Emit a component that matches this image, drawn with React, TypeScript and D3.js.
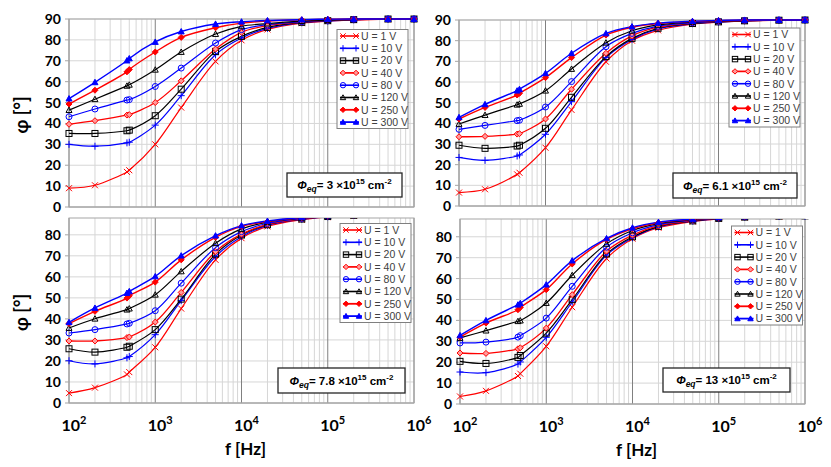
import React from "react";
import * as d3 from "d3";

// ---------- data ----------
const FREQS = [100, 200, 470, 500, 1000, 2000, 5000, 10000, 20000, 50000, 100000, 200000, 500000, 1000000];
const SERIES_LABELS = ["U = 1 V", "U = 10 V", "U = 20 V", "U = 40 V", "U = 80 V", "U = 120 V", "U = 250 V", "U = 300 V"];
const FLUENCES = ["3", "6.1", "7.8", "13"];
const X_EXPONENTS = [2, 3, 4, 5, 6];
const Y_TICKS = [0, 10, 20, 30, 40, 50, 60, 70, 80, 90];

// Φeq = 3e15
const PANEL_A: number[][] = [
  [9, 10.4, 16.8, 17.6, 30, 47.6, 69.7, 79.8, 85, 88, 89, 89.5, 89.9, 90],
  [30, 29.1, 30.7, 31, 39.2, 53.3, 72.9, 80.9, 85.5, 88.2, 89, 89.6, 90, 90],
  [35.2, 35.2, 36.5, 36.8, 43.7, 56.4, 74.5, 81.7, 86, 88.4, 89.2, 89.7, 90, 90],
  [39.6, 41.3, 44, 44.2, 50, 60.4, 75.6, 83.6, 86.8, 88.5, 89.3, 89.7, 90, 90],
  [43.2, 46.9, 51.2, 51.4, 57.7, 66.5, 78.5, 84.9, 87.3, 88.7, 89.4, 89.8, 90, 90],
  [46.4, 51.6, 58, 58.5, 65.7, 74.2, 82.8, 86.5, 87.8, 89, 89.5, 89.8, 90, 90],
  [49.3, 55.9, 64.7, 65.8, 74.2, 81.2, 85.8, 88, 89, 89.6, 89.9, 90, 90, 90],
  [51.9, 59.7, 70.1, 71.1, 79, 84, 87.6, 88.7, 89.3, 89.7, 89.9, 90, 90, 90],
];
// Φeq = 6.1e15
const PANEL_B: number[][] = [
  [6.5, 8.1, 15.3, 16.1, 28.2, 46.5, 69.8, 80, 85, 88, 89, 89.5, 89.9, 90],
  [23.5, 22.1, 24.2, 24.7, 34.7, 50.5, 71.8, 80.6, 85.7, 88.2, 89, 89.6, 89.9, 90],
  [29.4, 27.9, 29, 29.4, 37.6, 52.6, 72.3, 81.1, 86, 88.3, 89.1, 89.6, 89.9, 90],
  [33.5, 33.7, 34.8, 35, 42.1, 56.5, 73.9, 82.3, 86.5, 88.5, 89.3, 89.7, 90, 90],
  [37.1, 39, 41.3, 41.5, 47.9, 60.2, 77.1, 83.5, 87, 88.7, 89.4, 89.8, 90, 90],
  [39.7, 44, 49, 49.4, 55.8, 66.3, 79, 84.8, 87.6, 89, 89.5, 89.8, 90, 90],
  [42.1, 47.7, 53.7, 54.5, 62.1, 71.8, 82.7, 86.5, 88.3, 89.3, 89.7, 89.9, 90, 90],
  [42.9, 49.2, 55.8, 56.5, 64.2, 73.9, 83.5, 86.8, 88.5, 89.4, 89.8, 90, 90, 90],
];
// Φeq = 7.8e15
const PANEL_C: number[][] = [
  [4.7, 7.3, 13.6, 14.7, 26.5, 44.9, 68.1, 78.4, 84, 87.2, 88.5, 89.2, 89.8, 90],
  [20.1, 18.6, 21.5, 22.1, 32.5, 48.7, 69.7, 79.1, 84.5, 87.4, 88.6, 89.3, 89.9, 90],
  [25.8, 24.2, 26.5, 27, 34.9, 49.4, 70.8, 79.9, 84.8, 87.5, 88.7, 89.3, 89.9, 90],
  [29.5, 29.5, 31.1, 31.4, 38.5, 52.6, 72, 80.3, 85, 87.6, 88.8, 89.4, 89.9, 90],
  [33.3, 34.9, 37.6, 37.9, 43.9, 57, 73.9, 81.5, 85.5, 87.8, 88.9, 89.5, 90, 90],
  [35.7, 40.1, 44.4, 44.9, 51.5, 62.6, 76, 82.8, 86, 88, 89, 89.5, 90, 90],
  [37.8, 43.6, 49.9, 51, 57.5, 68.1, 78.8, 84, 86.3, 88.2, 89.1, 89.6, 90, 90],
  [38.4, 45.2, 52.3, 53.1, 60.2, 70.1, 79.6, 84.4, 86.6, 88.3, 89.2, 89.7, 90, 90],
];
// Φeq = 13e15
const PANEL_D: number[][] = [
  [3.6, 6.3, 13.4, 14.5, 27.6, 46.3, 69.6, 79.1, 84.3, 87.3, 88.6, 89.3, 89.8, 90],
  [15.3, 15, 19.1, 20.1, 31.9, 48.8, 71.2, 79.5, 84.7, 87.5, 88.7, 89.4, 89.9, 90],
  [20.4, 19.4, 22.3, 23.2, 33.9, 49.9, 71.8, 80, 85, 87.6, 88.8, 89.4, 89.9, 90],
  [24.4, 24.2, 26.4, 26.9, 36.3, 52.3, 73.1, 80.8, 85.3, 87.8, 88.9, 89.5, 90, 90],
  [29.2, 29.6, 32, 32.7, 41.1, 56.3, 75, 81.9, 85.8, 88, 89, 89.6, 90, 90],
  [31.6, 35.1, 39.6, 39.9, 48.3, 61.6, 76.6, 83, 86.3, 88.2, 89.1, 89.6, 90, 90],
  [32, 38.7, 45.1, 46.2, 54.7, 67, 78.7, 83.8, 86.7, 88.4, 89.2, 89.7, 90, 90],
  [32.8, 40, 47.5, 48.2, 57.1, 68.6, 79.2, 84.3, 87, 88.5, 89.3, 89.7, 90, 90],
];

// ---------- styles ----------
type Mk = "x" | "plus" | "square" | "diamondOpen" | "circle" | "triangle" | "diamond" | "triangleFilled";
const STYLES: { color: string; marker: Mk; width: number }[] = [
  { color: "#ff0000", marker: "x", width: 1.2 },
  { color: "#0000ff", marker: "plus", width: 1.2 },
  { color: "#000000", marker: "square", width: 1.2 },
  { color: "#ff0000", marker: "diamondOpen", width: 1.3 },
  { color: "#0000ff", marker: "circle", width: 1.2 },
  { color: "#000000", marker: "triangle", width: 1.2 },
  { color: "#ff0000", marker: "diamond", width: 1.4 },
  { color: "#0000ff", marker: "triangleFilled", width: 1.4 },
];

function Marker({ x, y, color, kind, s = 1 }: { x: number; y: number; color: string; kind: Mk; s?: number }) {
  const r = 3 * s;
  switch (kind) {
    case "x":
      return (
        <path d={`M${x - r},${y - r}L${x + r},${y + r}M${x - r},${y + r}L${x + r},${y - r}`} stroke={color} strokeWidth={1} fill="none" />
      );
    case "plus":
      return (
        <path d={`M${x - r - 0.5},${y}L${x + r + 0.5},${y}M${x},${y - r - 0.5}L${x},${y + r + 0.5}`} stroke={color} strokeWidth={1} fill="none" />
      );
    case "square":
      return <rect x={x - r} y={y - r} width={2 * r} height={2 * r} stroke={color} strokeWidth={1} fill="none" />;
    case "diamondOpen":
      return (
        <path d={`M${x},${y - r}L${x + r},${y}L${x},${y + r}L${x - r},${y}Z`} stroke={color} strokeWidth={1} fill="#ff9a9a" />
      );
    case "circle":
      return <circle cx={x} cy={y} r={r} stroke={color} strokeWidth={1} fill="none" />;
    case "triangle":
      return (
        <path d={`M${x},${y - r}L${x + r},${y + r * 0.8}L${x - r},${y + r * 0.8}Z`} stroke={color} strokeWidth={1} fill="none" />
      );
    case "diamond":
      return <path d={`M${x},${y - r}L${x + r},${y}L${x},${y + r}L${x - r},${y}Z`} stroke={color} strokeWidth={1} fill={color} />;
    case "triangleFilled":
      return (
        <path d={`M${x},${y - r}L${x + r},${y + r * 0.8}L${x - r},${y + r * 0.8}Z`} stroke={color} strokeWidth={1} fill={color} />
      );
  }
  return null;
}

type PanelProps = {
  id: string;
  data: number[][];
  x0: number;
  x1: number;
  y0: number;
  y1: number;
  yMax: number;
  clip: boolean;
  showX: boolean;
  showYTitle: boolean;
  legend: { x: number; y: number };
  note: { x: number; y: number; w: number; h: number };
  fluence: string;
};

const TICK_FONT = "Lato, 'Open Sans', sans-serif";
const TEXT_FONT = "'Liberation Sans', Arial, sans-serif";

function Panel(p: PanelProps) {
  const xs = d3.scaleLog().domain([100, 1e6]).range([p.x0, p.x1]);
  const ys = d3.scaleLinear().domain([0, p.yMax]).range([p.y1, p.y0]);
  const minor: number[] = [];
  for (let d = 2; d < 6; d++) for (let k = 2; k < 10; k++) minor.push(k * Math.pow(10, d));
  const majors = X_EXPONENTS.map((e) => Math.pow(10, e));
  const yt = Y_TICKS.filter((v) => v <= p.yMax);
  const line = d3
    .line<number>()
    .x((_, i) => xs(FREQS[i]))
    .y((v) => ys(v))
    .curve(d3.curveCatmullRom.alpha(0.5));
  const clipId = `clip-${p.id}`;
  const gridColor = "#d6d6d6";
  const majorColor = "#808080";
  return (
    <g>
      <defs>
        <clipPath id={clipId}>
          <rect x={p.x0 - 10} y={p.clip ? p.y0 : p.y0 - 10} width={p.x1 - p.x0 + 20} height={p.y1 - p.y0 + (p.clip ? 10 : 20)} />
        </clipPath>
      </defs>
      {/* grid */}
      {yt.map((v) => (
        <line key={`h${v}`} x1={p.x0} x2={p.x1} y1={ys(v)} y2={ys(v)} stroke={gridColor} strokeWidth={1} />
      ))}
      {minor.map((f) => (
        <line key={`m${f}`} x1={xs(f)} x2={xs(f)} y1={p.y0} y2={p.y1} stroke={gridColor} strokeWidth={1} />
      ))}
      {majors.map((f) => (
        <line key={`M${f}`} x1={xs(f)} x2={xs(f)} y1={p.y0} y2={p.y1} stroke={majorColor} strokeWidth={1} />
      ))}
      <rect x={p.x0} y={p.y0} width={p.x1 - p.x0} height={p.y1 - p.y0} fill="none" stroke="#a6a6a6" strokeWidth={1} />
      <line x1={p.x0} x2={p.x1} y1={p.y1} y2={p.y1} stroke="#a6a6a6" strokeWidth={1} />
      {/* left ticks */}
      {yt.map((v) => (
        <line key={`t${v}`} x1={p.x0 - 4} x2={p.x0} y1={ys(v)} y2={ys(v)} stroke="#a6a6a6" strokeWidth={1} />
      ))}
      {yt.map((v) => (
        <text key={`l${v}`} x={p.x0 - 8} y={ys(v) + 5} textAnchor="end" fontFamily={TICK_FONT} fontWeight="bold" fontSize={14} fill="#000">
          {v}
        </text>
      ))}
      {/* series */}
      <g clipPath={`url(#${clipId})`}>
        {p.data.map((vals, si) => (
          <path key={`s${si}`} d={line(vals) || ""} fill="none" stroke={STYLES[si].color} strokeWidth={STYLES[si].width} />
        ))}
        {p.data.map((vals, si) =>
          vals.map((v, i) => (
            <Marker key={`p${si}-${i}`} x={xs(FREQS[i])} y={ys(v)} color={STYLES[si].color} kind={STYLES[si].marker} />
          ))
        )}
      </g>
      {/* legend */}
      <rect x={p.legend.x} y={p.legend.y} width={71} height={99} fill="#fff" stroke="#7f7f7f" strokeWidth={1} />
      {SERIES_LABELS.map((lab, i) => {
        const cy = p.legend.y + 6.5 + i * 12.3;
        const st = STYLES[i];
        return (
          <g key={`lg${i}`}>
            <line x1={p.legend.x + 3} x2={p.legend.x + 22} y1={cy} y2={cy} stroke={st.color} strokeWidth={st.width + 0.4} />
            <Marker x={p.legend.x + 6} y={cy} color={st.color} kind={st.marker} s={0.9} />
            <Marker x={p.legend.x + 19} y={cy} color={st.color} kind={st.marker} s={0.9} />
            <text x={p.legend.x + 24} y={cy + 3.8} fontFamily={TEXT_FONT} fontSize={10.5} fill="#404040">
              {lab}
            </text>
          </g>
        );
      })}
      {/* note */}
      <rect x={p.note.x} y={p.note.y} width={p.note.w} height={p.note.h} fill="#fff" stroke="#262626" strokeWidth={1.3} />
      <text
        x={p.note.x + p.note.w / 2}
        y={p.note.y + p.note.h / 2 + 4}
        textAnchor="middle"
        fontFamily={TEXT_FONT}
        fontWeight="bold"
        fontSize={11.5}
        fill="#000"
      >
        <tspan fontStyle="italic">Φ</tspan>
        <tspan fontStyle="italic" fontSize={8.5} dy={3}>
          eq
        </tspan>
        <tspan dy={-3}>{`= ${p.fluence} ×10`}</tspan>
        <tspan fontSize={8} dy={-5}>
          15
        </tspan>
        <tspan dy={5}> cm</tspan>
        <tspan fontSize={8} dy={-5}>
          -2
        </tspan>
      </text>
      {/* x labels */}
      {p.showX &&
        X_EXPONENTS.map((e) => (
          <text key={`x${e}`} x={xs(Math.pow(10, e)) + 5} y={p.y1 + 28} textAnchor="middle" fontFamily={TICK_FONT} fontWeight="bold" fontSize={16} fill="#000">
            10
            <tspan fontSize={11} dy={-7}>
              {e}
            </tspan>
          </text>
        ))}
      {p.showX && (
        <text x={(p.x0 + p.x1) / 2 + 4} y={p.y1 + 52} textAnchor="middle" fontFamily={TICK_FONT} fontWeight="bold" fontSize={17} fill="#000">
          f [Hz]
        </text>
      )}
      {p.showYTitle && (
        <text
          transform={`translate(${p.x0 - 41},${(p.y0 + p.y1) / 2 + 2}) rotate(-90)`}
          textAnchor="middle"
          fontFamily={TICK_FONT}
          fontWeight="bold"
          fontSize={18}
          fill="#000"
        >
          φ [°]
        </text>
      )}
    </g>
  );
}

export default function App() {
  return (
    <div style={{ position: "fixed", left: 0, top: 0, width: 831, height: 467, background: "#fff" }}>
      <svg width={831} height={467} viewBox="0 0 831 467" style={{ display: "block" }}>
        <rect x={0} y={0} width={831} height={467} fill="#fff" />
        <Panel
          id="a"
          data={PANEL_A}
          x0={69}
          x1={414}
          y0={19}
          y1={207}
          yMax={90}
          clip={false}
          showX={false}
          showYTitle={true}
          legend={{ x: 337, y: 29.5 }}
          note={{ x: 287, y: 173, w: 115, h: 24 }}
          fluence={FLUENCES[0]}
        />
        <Panel
          id="b"
          data={PANEL_B}
          x0={459}
          x1={805}
          y0={20}
          y1={206}
          yMax={90}
          clip={false}
          showX={false}
          showYTitle={false}
          legend={{ x: 729, y: 28 }}
          note={{ x: 673, y: 173, w: 124, h: 25 }}
          fluence={FLUENCES[1]}
        />
        <Panel
          id="c"
          data={PANEL_C}
          x0={69}
          x1={414}
          y0={218}
          y1={403}
          yMax={88}
          clip={true}
          showX={true}
          showYTitle={true}
          legend={{ x: 340, y: 223.5 }}
          note={{ x: 278, y: 368, w: 127, h: 25 }}
          fluence={FLUENCES[2]}
        />
        <Panel
          id="d"
          data={PANEL_D}
          x0={460}
          x1={805}
          y0={219}
          y1={404}
          yMax={88.5}
          clip={true}
          showX={true}
          showYTitle={false}
          legend={{ x: 731.5, y: 226 }}
          note={{ x: 663, y: 368, w: 127, h: 24 }}
          fluence={FLUENCES[3]}
        />
      </svg>
    </div>
  );
}
